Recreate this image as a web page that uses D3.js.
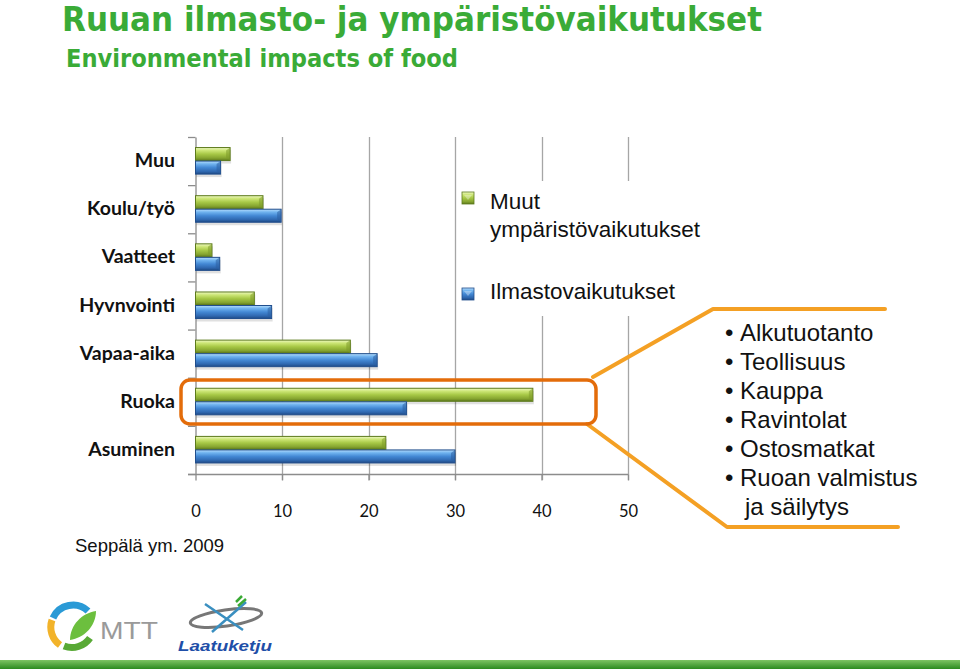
<!DOCTYPE html>
<html>
<head>
<meta charset="utf-8">
<script src="https://cdn.jsdelivr.net/npm/d3@7"></script>
<style>
  html, body { margin: 0; padding: 0; background: #fff; }
  svg { display: block; }
</style>
</head>
<body>
<svg id="chart" width="960" height="669"></svg>
<script>
// ---- Data ----
const categories = ["Muu", "Koulu/työ", "Vaatteet", "Hyvnvointi", "Vapaa-aika", "Ruoka", "Asuminen"];
const seriesNames = ["Muut ympäristövaikutukset", "Ilmastovaikutukset"];
const muutValues = [4, 7.8, 1.9, 6.8, 17.9, 39, 22];
const ilmastoValues = [2.9, 9.9, 2.8, 8.8, 21, 24.4, 30];
const xTicks = [0, 10, 20, 30, 40, 50];
const bulletItems = ["Alkutuotanto", "Teollisuus", "Kauppa", "Ravintolat", "Ostosmatkat", "Ruoan valmistus"];
const bulletCont = "ja säilytys";

const svg = d3.select("#chart");
const defs = svg.append("defs");

function grad(id, stops) {
  const g = defs.append("linearGradient").attr("id", id)
    .attr("x1", 0).attr("y1", 0).attr("x2", 0).attr("y2", 1);
  stops.forEach(s => g.append("stop").attr("offset", s[0]).attr("stop-color", s[1]));
}
grad("gGreen", [["0%", "#eef8c4"], ["22%", "#cde677"], ["50%", "#a7c846"], ["80%", "#86a530"], ["100%", "#5f7a1c"]]);
grad("gBlue", [["0%", "#b8defc"], ["22%", "#70b3ef"], ["50%", "#4388d4"], ["80%", "#2f68b0"], ["100%", "#1f4a85"]]);
grad("gBar", [["0%", "#7dc463"], ["100%", "#2b8a1f"]]);

const colors = { fill: ["url(#gGreen)", "url(#gBlue)"], stroke: ["#5c7a1c", "#214e8c"] };

// Title
const titleFont = "'Liberation Sans Narrow', 'DejaVu Sans Condensed', 'Liberation Sans', Arial, sans-serif";
svg.append("text").attr("x", 62).attr("y", 31)
  .attr("font-family", titleFont)
  .attr("font-weight", "bold").attr("font-size", 34).attr("fill", "#3aab37")
  .attr("textLength", 700).attr("lengthAdjust", "spacingAndGlyphs")
  .text("Ruuan ilmasto- ja ympäristövaikutukset");
svg.append("text").attr("x", 66).attr("y", 67)
  .attr("font-family", titleFont)
  .attr("font-weight", "bold").attr("font-size", 25).attr("fill", "#3aab37")
  .attr("textLength", 392).attr("lengthAdjust", "spacingAndGlyphs")
  .text("Environmental impacts of food");

// Scales
const x = d3.scaleLinear().domain([0, 50]).range([195.5, 628]);
const y = d3.scaleBand().domain(categories).range([137, 474]).padding(0);
const y1 = d3.scaleBand().domain([0, 1]).range([0, y.bandwidth()]).paddingInner(0).paddingOuter(0.78);

// Gridlines
const grid = svg.append("g");
grid.selectAll("line").data(xTicks.slice(1)).join("line")
  .attr("x1", d => Math.round(x(d)) + 0.5).attr("x2", d => Math.round(x(d)) + 0.5)
  .attr("y1", 137).attr("y2", 480)
  .attr("stroke", "#a6a6a6").attr("stroke-width", 1.3);

// Axes
const yAxis = d3.axisLeft(y).tickSize(0).tickFormat("");
svg.append("g").attr("transform", "translate(195.5,0)").call(yAxis)
  .call(g => g.select(".domain").attr("stroke", "#8c8c8c").attr("stroke-width", 1.3));
// left tick marks at band boundaries
svg.append("g").selectAll("line").data(categories.concat(["__end"])).join("line")
  .attr("x1", 188).attr("x2", 195.5)
  .attr("y1", (d, i) => 137 + i * y.step() + 0.5)
  .attr("y2", (d, i) => 137 + i * y.step() + 0.5)
  .attr("stroke", "#8c8c8c").attr("stroke-width", 1.3);

const xAxis = d3.axisBottom(x).tickValues(xTicks).tickSize(6).tickPadding(25).tickFormat(d3.format("d"));
svg.append("g").attr("transform", "translate(0,474.5)").call(xAxis)
  .call(g => g.select(".domain").attr("d", "M188,0H628").attr("stroke", "#8c8c8c").attr("stroke-width", 1.3))
  .call(g => g.selectAll(".tick line").attr("stroke", "#8c8c8c").attr("stroke-width", 1.3))
  .call(g => g.selectAll(".tick text").attr("font-family", "Lato, 'Open Sans', sans-serif")
    .attr("font-size", 16.5).attr("fill", "#111"));

// category labels
svg.append("g").selectAll("text").data(categories).join("text")
  .attr("x", 175).attr("y", d => y(d) + y.bandwidth() / 2 + 6)
  .attr("text-anchor", "end")
  .attr("font-family", "Lato, 'Open Sans', sans-serif").attr("font-weight", 700)
  .attr("font-size", 19.5).attr("fill", "#111")
  .text(d => d);

// Bars
const rows = categories.map((c, i) => ({ cat: c, vals: [muutValues[i], ilmastoValues[i]] }));
const barG = svg.append("g");
const groups = barG.selectAll("g").data(rows).join("g")
  .attr("transform", d => `translate(0,${y(d.cat)})`);
// shadows
groups.selectAll("rect.sh").data(d => d.vals.map((v, s) => ({ v, s }))).join("rect")
  .attr("class", "sh")
  .attr("x", x(0) + 1).attr("y", d => y1(d.s) + 2.5)
  .attr("width", d => x(d.v) - x(0)).attr("height", y1.bandwidth())
  .attr("fill", "#000").attr("opacity", 0.12);
groups.selectAll("rect.bar").data(d => d.vals.map((v, s) => ({ v, s }))).join("rect")
  .attr("class", "bar")
  .attr("x", x(0)).attr("y", d => y1(d.s))
  .attr("width", d => x(d.v) - x(0)).attr("height", y1.bandwidth() - 0.5)
  .attr("fill", d => colors.fill[d.s]).attr("stroke", d => colors.stroke[d.s]).attr("stroke-width", 1);
// end bevel highlight
groups.selectAll("path.bev").data(d => d.vals.map((v, s) => ({ v, s }))).join("path")
  .attr("class", "bev")
  .attr("d", d => {
    const xe = x(d.v), yt = y1(d.s), h = y1.bandwidth() - 0.5;
    return `M${xe - 4},${yt + 3}L${xe},${yt}L${xe},${yt + h}L${xe - 4},${yt + h - 3}Z`;
  })
  .attr("fill", d => d.s === 0 ? "#7d9a2a" : "#2c5fa0").attr("opacity", 0.55);

// Legend (white box covering gridlines)
svg.append("rect").attr("x", 457).attr("y", 181).attr("width", 250).attr("height", 135).attr("fill", "#fff");
const legend = svg.append("g").attr("font-family", "'Liberation Sans', Arial, sans-serif")
  .attr("font-size", 22.5).attr("fill", "#111");
const legItems = [
  { s: 0, sy: 192, lines: ["Muut", "ympäristövaikutukset"], ty: 209 },
  { s: 1, sy: 288, lines: ["Ilmastovaikutukset"], ty: 299 }
];
legItems.forEach(it => {
  legend.append("rect").attr("x", 462).attr("y", it.sy).attr("width", 12).attr("height", 12)
    .attr("fill", colors.fill[it.s]).attr("stroke", colors.stroke[it.s]).attr("stroke-width", 0.8);
  legend.append("path")
    .attr("d", `M464,${it.sy + 3}L468,${it.sy + 8}L472,${it.sy + 3}Z`)
    .attr("fill", "#fff").attr("opacity", 0.35);
  it.lines.forEach((l, k) => {
    legend.append("text").attr("x", 490).attr("y", it.ty + k * 28).attr("fill", "#111").text(l);
  });
});

// Callout lines
const callout = svg.append("g").attr("fill", "none").attr("stroke-linejoin", "round").attr("stroke-linecap", "round");
callout.append("path").attr("d", "M593,377L713,309L885,309").attr("stroke", "#f4a024").attr("stroke-width", 4);
callout.append("path").attr("d", "M587,424L727,527L898,527").attr("stroke", "#f4a024").attr("stroke-width", 4);
callout.append("rect").attr("x", 181).attr("y", 380).attr("width", 415).attr("height", 44).attr("rx", 9)
  .attr("stroke", "#e36c0a").attr("stroke-width", 3.5);

// Bullet list
const bl = svg.append("g").attr("font-family", "'Liberation Sans', Arial, sans-serif")
  .attr("font-size", 24).attr("fill", "#111");
bulletItems.forEach((t, i) => {
  const by = 341 + i * 29;
  bl.append("text").attr("x", 725).attr("y", by).text("•");
  bl.append("text").attr("x", 740).attr("y", by).text(t);
});
bl.append("text").attr("x", 745).attr("y", 341 + 6 * 29).text(bulletCont);

// Source
svg.append("text").attr("x", 75).attr("y", 552)
  .attr("font-family", "'Liberation Sans', Arial, sans-serif").attr("font-size", 18.5).attr("fill", "#111")
  .text("Seppälä ym. 2009");

// MTT logo
const mtt = svg.append("g");
mtt.append("path").attr("d", "M88,611 A22,22 0 0,0 53,618").attr("stroke", "#2a9ad6").attr("stroke-width", 7).attr("fill", "none");
mtt.append("path").attr("d", "M52,620 A22,22 0 0,0 60,645").attr("stroke", "#f2b32a").attr("stroke-width", 7).attr("fill", "none");
mtt.append("path").attr("d", "M64,646 A22,22 0 0,0 90,638").attr("stroke", "#58a935").attr("stroke-width", 7).attr("fill", "none");
mtt.append("path").attr("d", "M70,640 C70,625 82,613 96,611 C96,626 84,638 70,640Z").attr("fill", "#6cbf3e");
mtt.append("text").attr("x", 100).attr("y", 639).attr("font-family", "'Liberation Sans', Arial, sans-serif")
  .attr("font-size", 24).attr("fill", "#9a9a9a").attr("textLength", 58).attr("lengthAdjust", "spacingAndGlyphs").text("MTT");

// Laatuketju logo
const lk = svg.append("g");
lk.append("ellipse").attr("cx", 226).attr("cy", 618).attr("rx", 36).attr("ry", 8)
  .attr("transform", "rotate(-8,226,618)").attr("fill", "none").attr("stroke", "#777").attr("stroke-width", 3);
lk.append("path").attr("d", "M205,604 L243,630 M212,632 L246,602").attr("stroke", "#3a8fc0").attr("stroke-width", 2.5).attr("fill", "none");
lk.append("path").attr("d", "M238,606 L246,599 M236,602 L242,596").attr("stroke", "#3aaa35").attr("stroke-width", 2.5).attr("fill", "none");
lk.append("text").attr("x", 178).attr("y", 651).attr("font-family", "'Liberation Sans', Arial, sans-serif")
  .attr("font-weight", "bold").attr("font-style", "italic").attr("font-size", 14).attr("fill", "#1f4fa8")
  .attr("textLength", 94).attr("lengthAdjust", "spacingAndGlyphs").text("Laatuketju");

// bottom green bar
svg.append("rect").attr("x", 0).attr("y", 660).attr("width", 960).attr("height", 9).attr("fill", "url(#gBar)");
</script>
</body>
</html>
